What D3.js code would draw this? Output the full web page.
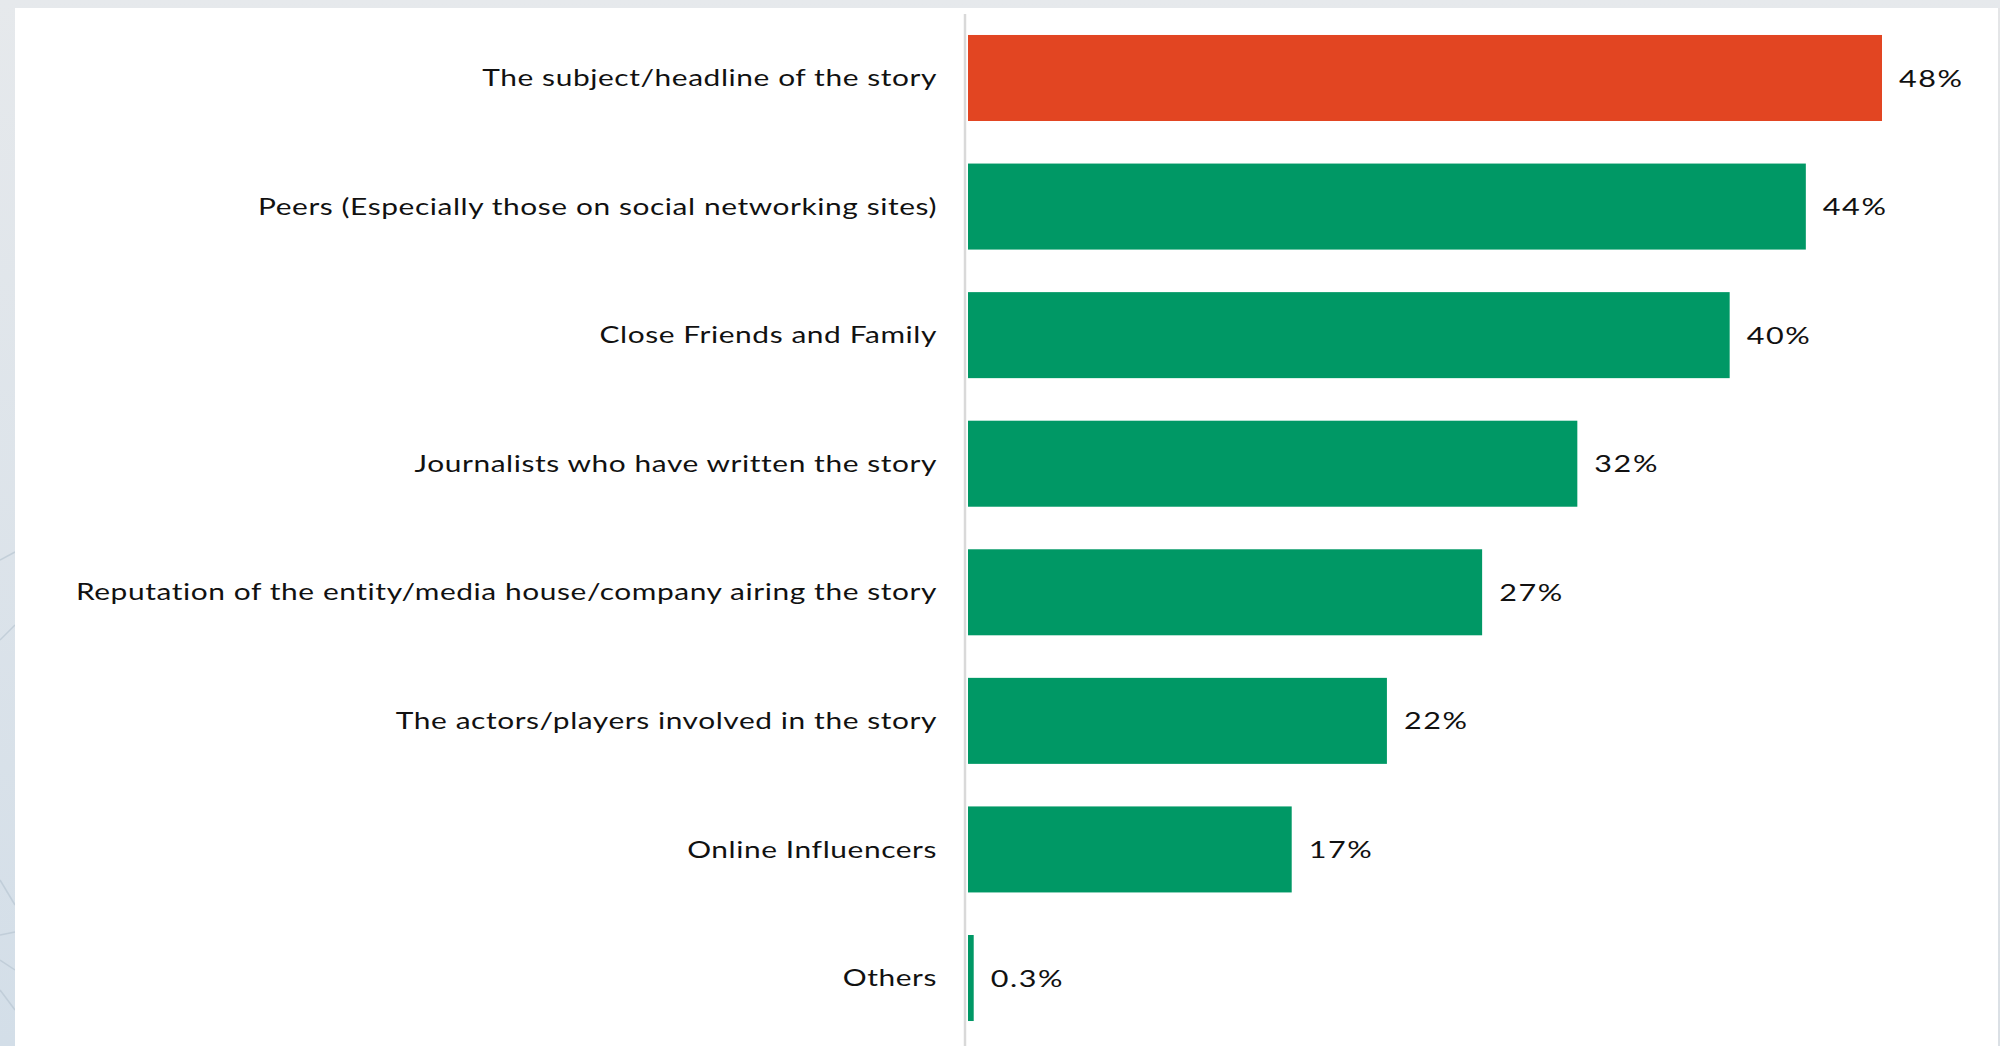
<!DOCTYPE html>
<html>
<head>
<meta charset="utf-8">
<script src="https://cdn.jsdelivr.net/npm/d3@7"></script>
<style>
  html, body { margin: 0; padding: 0; background: #e3e8ec; }
  svg { display: block; }
  text { font-family: Lato, "Open Sans", sans-serif; fill: #111111; }
</style>
</head>
<body>
<svg id="chart" width="2000" height="1046"></svg>
<script>
// Influences on whether a story is believed / shared
const categories = [
  "The subject/headline of the story",
  "Peers (Especially those on social networking sites)",
  "Close Friends and Family",
  "Journalists who have written the story",
  "Reputation of the entity/media house/company airing the story",
  "The actors/players involved in the story",
  "Online Influencers",
  "Others"
];
const values = [48, 44, 40, 32, 27, 22, 17, 0.3];
const valueLabels = ["48%", "44%", "40%", "32%", "27%", "22%", "17%", "0.3%"];
const highlight = [true, false, false, false, false, false, false, false];

const W = 2000, H = 1046;
const svg = d3.select("#chart");

// backdrop and white panel
const defs = svg.append("defs");
const bg = defs.append("linearGradient").attr("id", "bg").attr("x1", 0).attr("y1", 0).attr("x2", 0).attr("y2", 1);
bg.append("stop").attr("offset", 0).attr("stop-color", "#e6e9ec");
bg.append("stop").attr("offset", 1).attr("stop-color", "#d3dee8");
svg.append("rect").attr("width", W).attr("height", H).attr("fill", "url(#bg)");

// faint strokes in the backdrop strip
const strokes = svg.append("g").attr("stroke", "#b9c7d3").attr("stroke-width", 1.5).attr("fill", "none").attr("opacity", 0.7);
strokes.append("path").attr("d", "M0,880 L15,905");
strokes.append("path").attr("d", "M0,935 L15,932");
strokes.append("path").attr("d", "M0,960 L15,970");
strokes.append("path").attr("d", "M0,990 L15,1010");
strokes.append("path").attr("d", "M0,640 L15,625");
strokes.append("path").attr("d", "M0,560 L15,552");

svg.append("rect").attr("x", 15).attr("y", 8).attr("width", 1983).attr("height", H - 8).attr("fill", "#ffffff");
svg.append("line").attr("x1", 1999).attr("x2", 1999).attr("y1", 8).attr("y2", H).attr("stroke", "#e2e2e2").attr("stroke-width", 1);

// scales
const x = d3.scaleLinear().domain([0, 48]).range([968, 1882]);
const y = d3.scaleBand().domain(categories).range([13.7, 1042.3]).paddingInner(0.331).paddingOuter(0.1655);

// vertical axis line
svg.append("line")
  .attr("x1", 965).attr("x2", 965)
  .attr("y1", 14).attr("y2", H)
  .attr("stroke", "#d9d9d9").attr("stroke-width", 2.5);

// bars
svg.append("g").selectAll("rect")
  .data(categories)
  .join("rect")
  .attr("x", x(0))
  .attr("y", d => y(d))
  .attr("width", (d, i) => x(values[i]) - x(0))
  .attr("height", y.bandwidth())
  .attr("fill", (d, i) => highlight[i] ? "#e24522" : "#009865");

const sx = 1.30;

// category labels, right aligned against the axis
svg.append("g").selectAll("text")
  .data(categories)
  .join("text")
  .attr("transform", d => `translate(937,${y(d) + y.bandwidth() / 2 - 0.5}) scale(${sx},1)`)
  .attr("text-anchor", "end")
  .attr("dominant-baseline", "central")
  .attr("font-size", 23)
  .attr("letter-spacing", 0.45)
  .text(d => d);

// value labels at bar ends
svg.append("g").selectAll("text")
  .data(categories)
  .join("text")
  .attr("transform", (d, i) => `translate(${x(values[i]) + 17},${y(d) + y.bandwidth() / 2 - 0.5}) scale(${sx},1)`)
  .attr("text-anchor", "start")
  .attr("dominant-baseline", "central")
  .attr("font-size", 23.5)
  .attr("letter-spacing", 1.2)
  .text((d, i) => valueLabels[i]);
</script>
</body>
</html>
